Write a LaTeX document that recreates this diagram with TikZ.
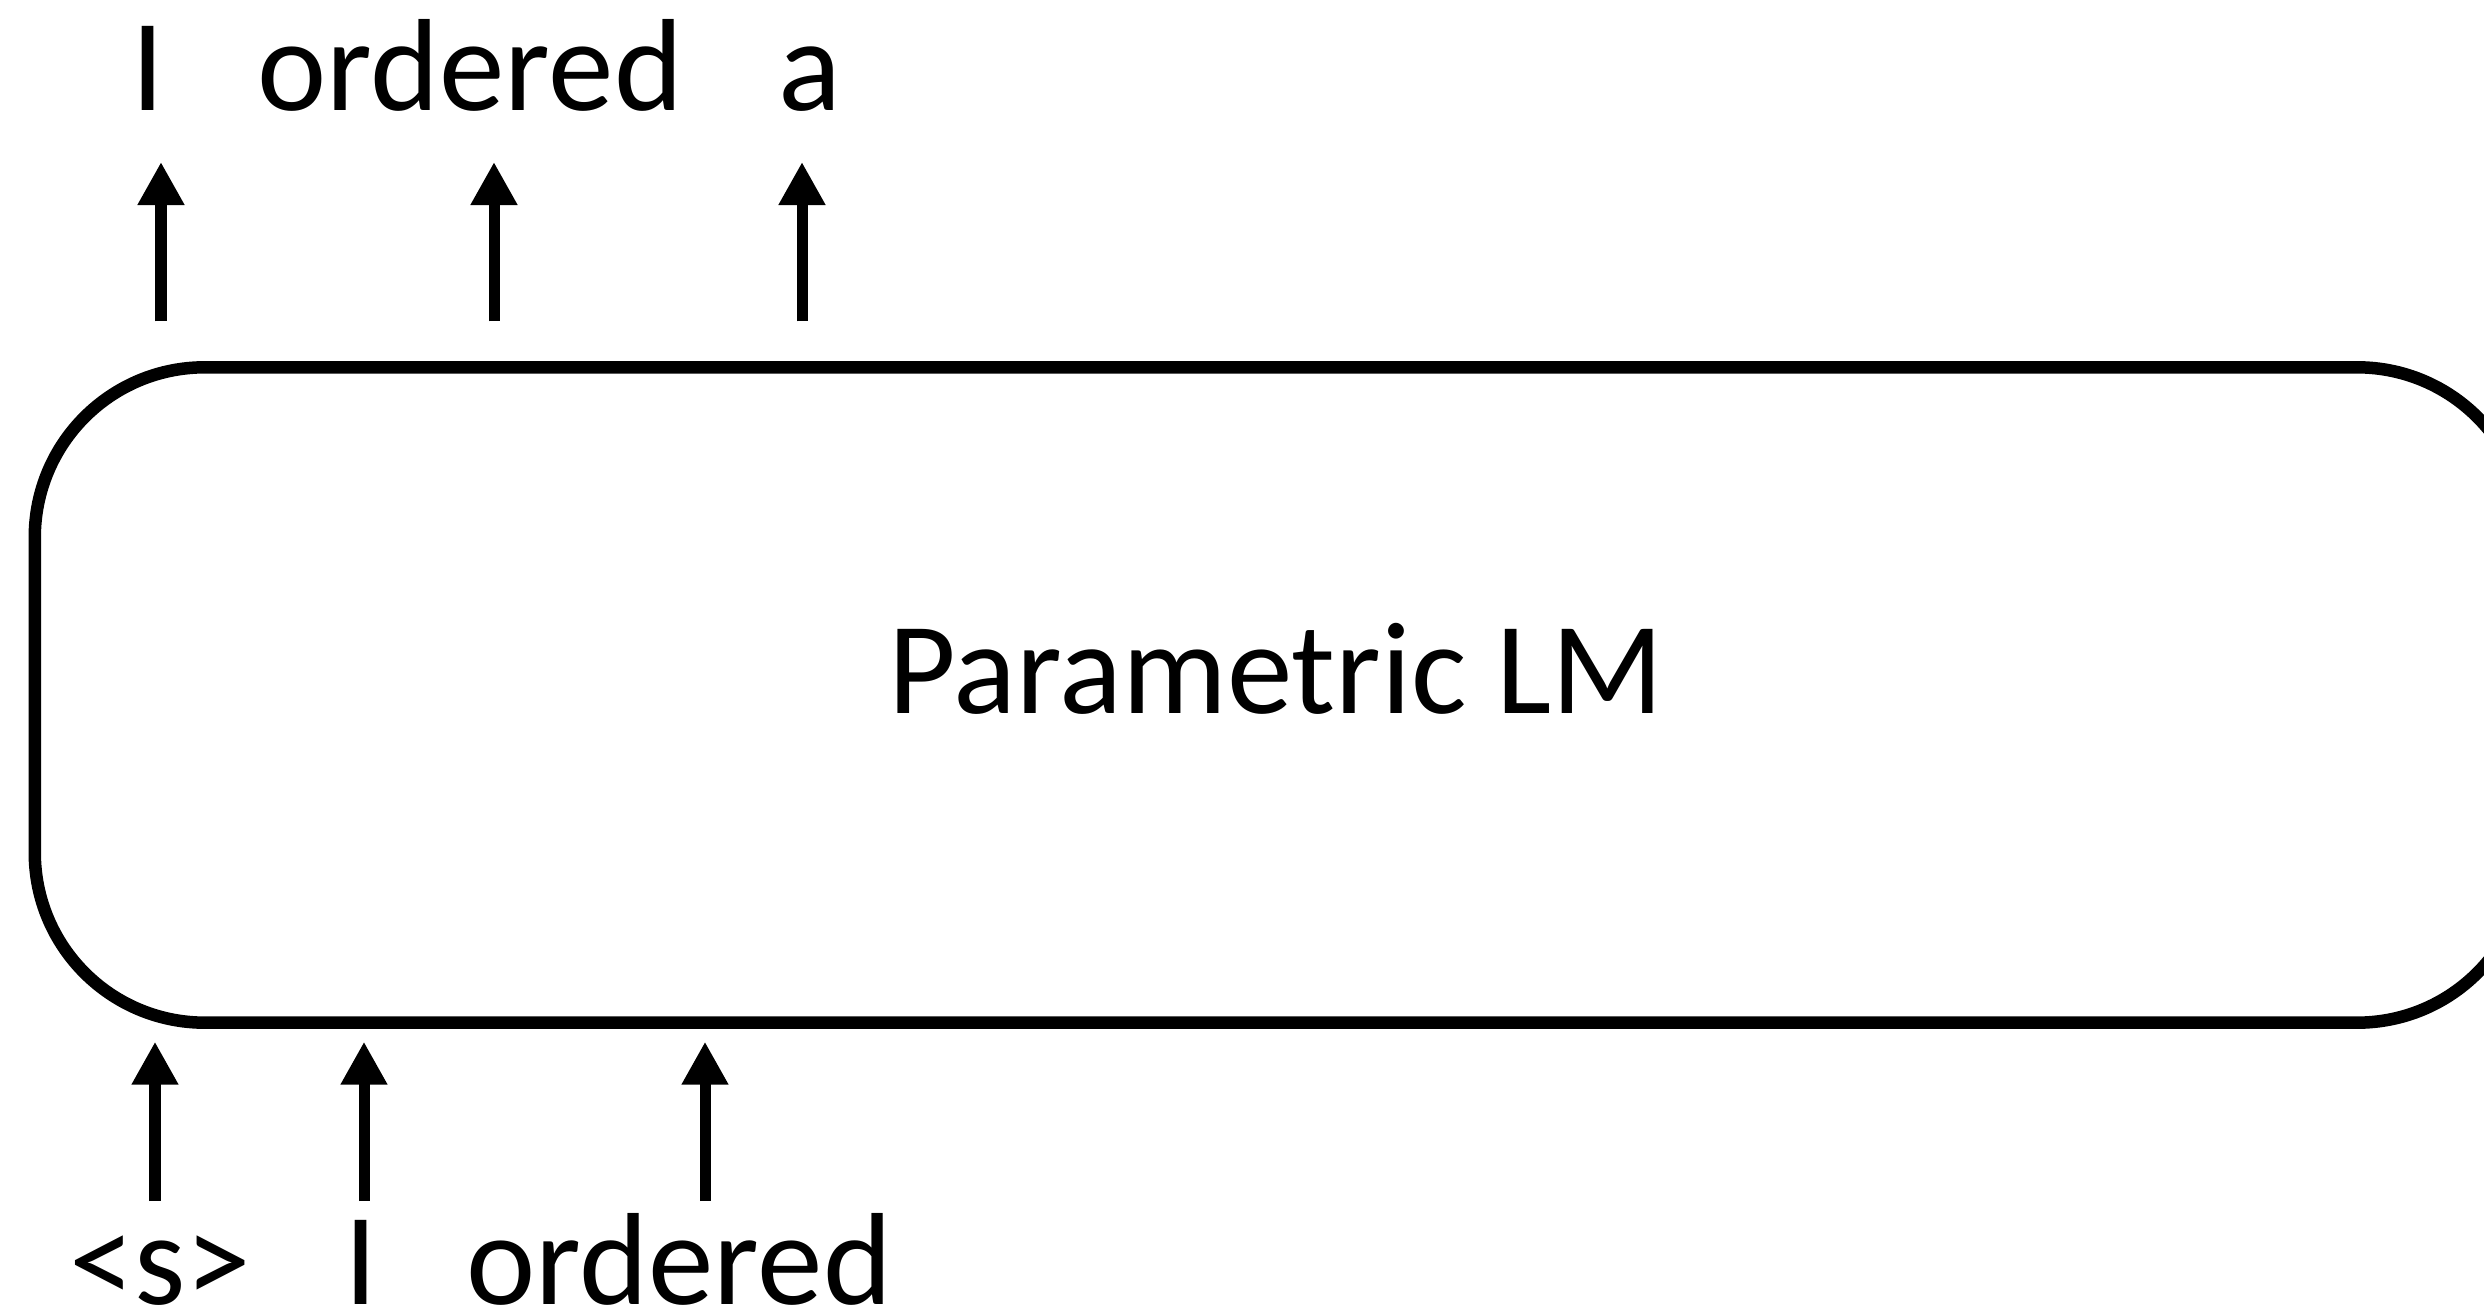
\documentclass[tikz,border=0pt]{standalone}
\usepackage{fontspec}
\setmainfont{Carlito}
\usetikzlibrary{arrows.meta}

\begin{document}
\begin{tikzpicture}[
  x=0.01cm, y=-0.01cm,
  font=\fontsize{37.3}{44}\selectfont,
  wd/.style={anchor=base, inner sep=0pt},
  lmbox/.style={draw, line width=1.25mm, rounded corners=1.7cm, minimum width=24.91cm,
                minimum height=6.55cm, inner sep=0pt, outer sep=0pt},
  arr/.style={line width=1.1mm, -{Triangle[length=4.3mm, width=4.4mm]}}
]
\useasboundingbox (0,0) rectangle (2484,1313);

\node[lmbox] (lm) at (1281,695) {};
\node[wd] (name) at (1276,714) {Parametric LM};

\node[wd] (o1) at (148,111) {I};
\node[wd] (o2) at (470,111) {ordered};
\node[wd] (o3) at (810,111) {a};

\node[wd] (i1) at (160,1304) {<s>};
\node[wd] (i2) at (361,1304) {I};
\node[wd] (i3) at (679,1304) {ordered};

\coordinate (u1) at (161,162);
\coordinate (u2) at (494,162);
\coordinate (u3) at (802,162);
\coordinate (d1) at (155,1201);
\coordinate (d2) at (364,1201);
\coordinate (d3) at (705,1201);

\foreach \k in {1,2,3} {
  \draw[arr, shorten <=0.46cm] (lm.north -| u\k) -- (u\k);
  \draw[arr, shorten >=0.19cm] (d\k) -- (d\k |- lm.south);
}
\end{tikzpicture}
\end{document}
